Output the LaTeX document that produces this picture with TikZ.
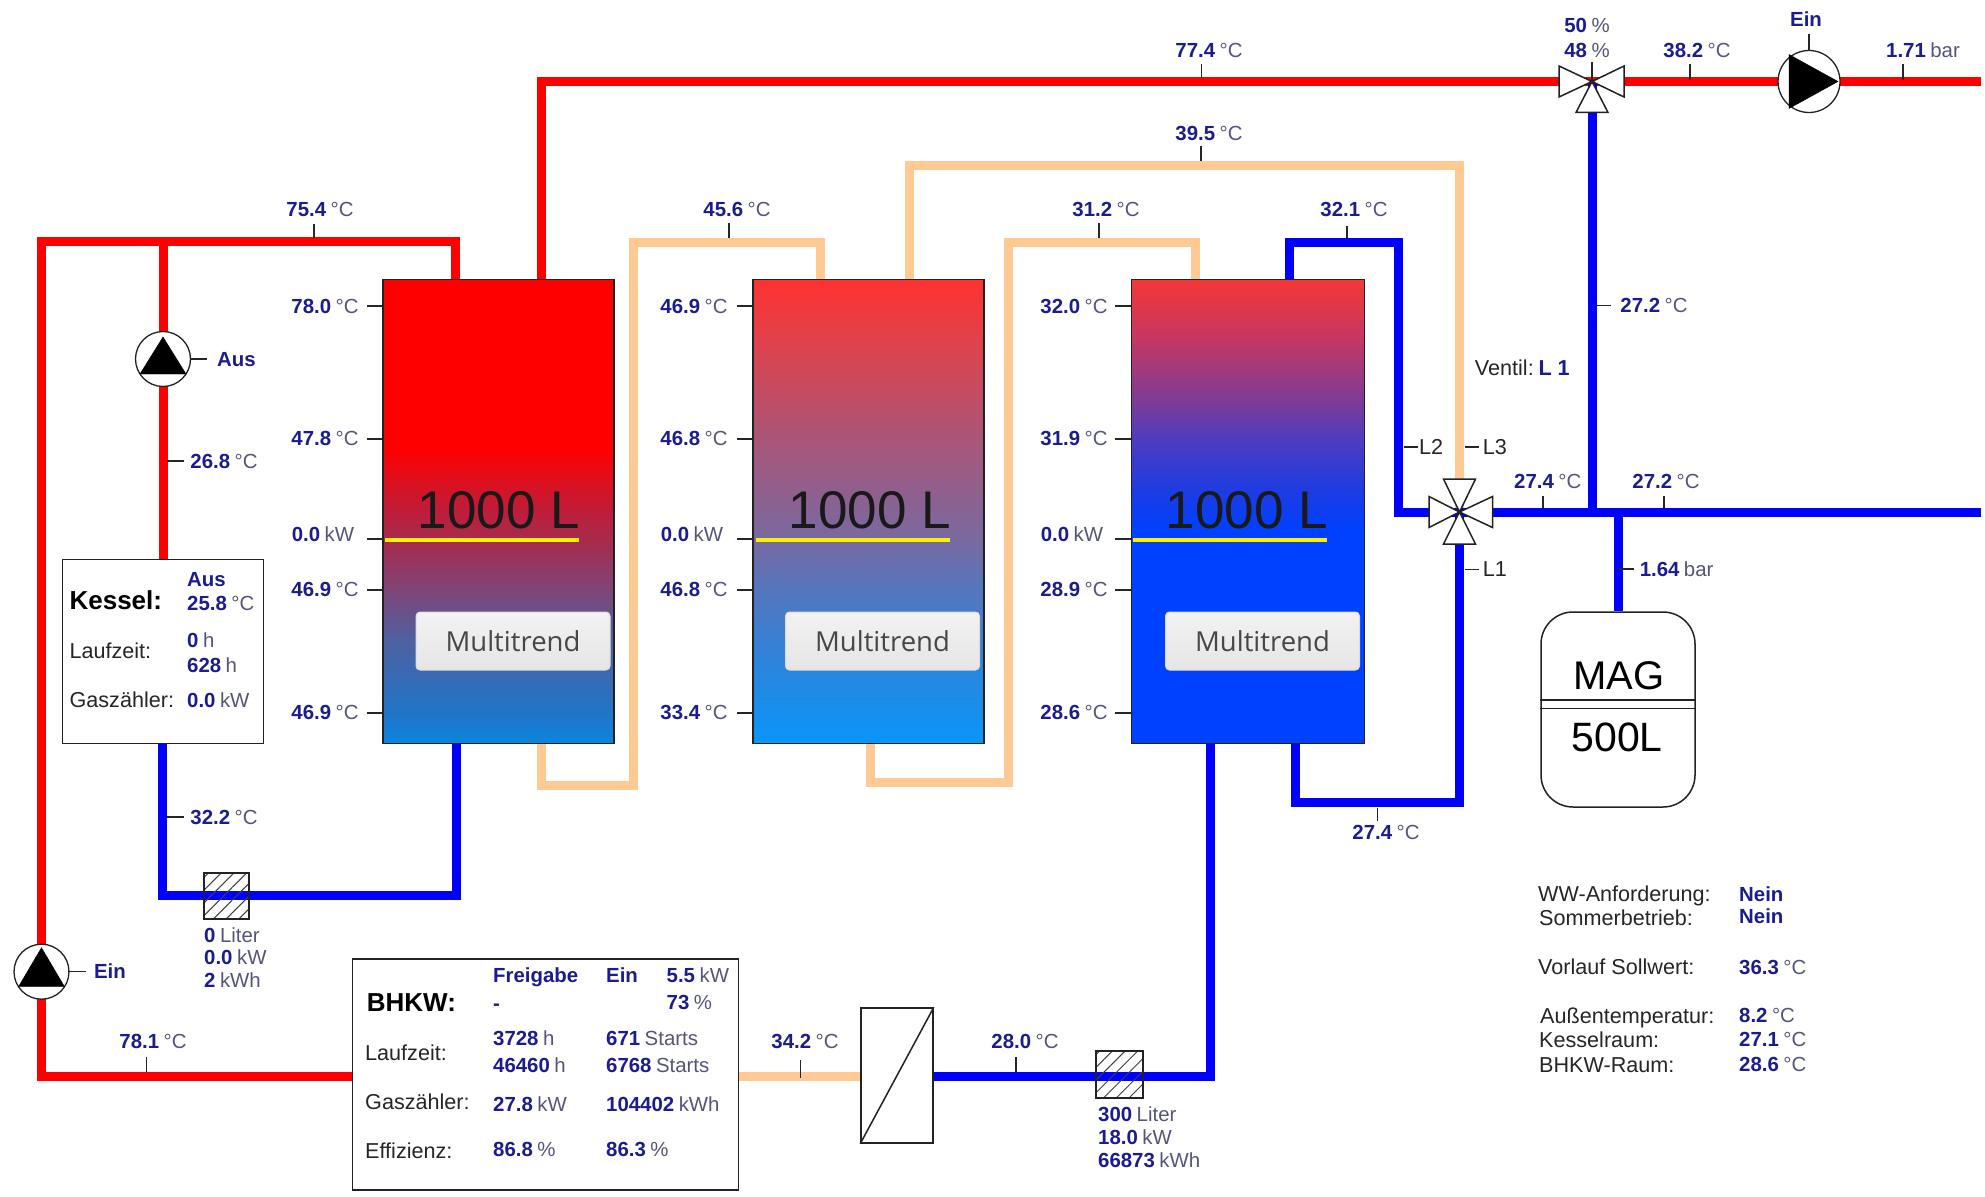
\documentclass[tikz,border=0pt]{standalone}
\usepackage{fontspec}
\setmainfont{Liberation Sans}
\newfontfamily\btnfont{Open Sans}
\usetikzlibrary{patterns.meta}
\definecolor{valc}{HTML}{1C1C8E}
\definecolor{unitc}{HTML}{55557A}
\definecolor{pipered}{HTML}{FF0000}
\definecolor{pipeblue}{HTML}{0000FF}
\definecolor{pipepeach}{HTML}{FFC993}
\definecolor{outl}{HTML}{222222}
% shading: 25bp = bottom of tank, 75bp = top of tank
\pgfdeclareverticalshading{tankA}{100bp}{
 color(0bp)=(rgb,255:red,10;green,133;blue,224);
 color(25bp)=(rgb,255:red,10;green,133;blue,224);
 color(28.3bp)=(rgb,255:red,32;green,117;blue,200);
 color(36.3bp)=(rgb,255:red,80;green,96;blue,160);
 color(41.6bp)=(rgb,255:red,127;green,69;blue,119);
 color(47bp)=(rgb,255:red,168;green,42;blue,76);
 color(50.3bp)=(rgb,255:red,192;green,28;blue,56);
 color(56.9bp)=(rgb,255:red,255;green,0;blue,0);
 color(75bp)=(rgb,255:red,255;green,0;blue,0);
 color(100bp)=(rgb,255:red,255;green,0;blue,0)}
\pgfdeclareverticalshading{tankB}{100bp}{
 color(0bp)=(rgb,255:red,8;green,150;blue,250);
 color(25bp)=(rgb,255:red,8;green,150;blue,250);
 color(35bp)=(rgb,255:red,50;green,130;blue,215);
 color(41.6bp)=(rgb,255:red,85;green,118;blue,190);
 color(47bp)=(rgb,255:red,120;green,105;blue,160);
 color(57.9bp)=(rgb,255:red,170;green,85;blue,120);
 color(68.5bp)=(rgb,255:red,225;green,65;blue,75);
 color(75bp)=(rgb,255:red,255;green,50;blue,50);
 color(100bp)=(rgb,255:red,255;green,50;blue,50)}
\pgfdeclareverticalshading{tankC}{100bp}{
 color(0bp)=(rgb,255:red,0;green,64;blue,255);
 color(48bp)=(rgb,255:red,0;green,64;blue,255);
 color(52.4bp)=(rgb,255:red,30;green,60;blue,225);
 color(57.9bp)=(rgb,255:red,80;green,60;blue,190);
 color(62bp)=(rgb,255:red,125;green,60;blue,150);
 color(69bp)=(rgb,255:red,200;green,55;blue,95);
 color(75bp)=(rgb,255:red,245;green,55;blue,55);
 color(100bp)=(rgb,255:red,245;green,55;blue,55)}
\newcommand{\V}[2]{{\bfseries\color{valc}#1}\hspace{.22em}{\color{unitc}#2}}
\newcommand{\B}[1]{{\bfseries\color{valc}#1}}
\newcommand{\marktick}[5]{\coordinate (#1a) at (#2,#3); \coordinate (#1b) at (#4,#5); \draw[tickline] (#1a) -- (#1b);}
\tikzset{
 x=1pt,y=-1pt,
 pipeR/.style={draw=pipered,line width=9pt,line join=miter},
 pipeB/.style={draw=pipeblue,line width=9pt,line join=miter},
 pipeP/.style={draw=pipepeach,line width=9pt,line join=miter},
 tickline/.style={draw=black!85,line width=1.3pt},
 val/.style={inner sep=0pt,text height=14pt,text depth=0pt,font=\fontsize{20.4}{24}\selectfont},
 vall/.style={val,anchor=west},
 txt/.style={inner sep=0pt,text height=14pt,text depth=0pt,anchor=west,font=\fontsize{21.6}{24}\selectfont,text=black!85},
 headtxt/.style={inner sep=0pt,text height=18pt,text depth=0pt,anchor=west,font=\bfseries\fontsize{26}{30}\selectfont,text=black},
 tankbox/.style={draw=outl,line width=1.8pt,minimum width=231pt,minimum height=464pt,inner sep=0pt},
 bigtxt/.style={inner sep=0pt,font=\fontsize{53}{60}\selectfont,text=black!90,text height=38pt,text depth=0pt},
 heatline/.style={draw={rgb,255:red,250;green,240;blue,0},line width=3.4pt},
 btn/.style={draw=white!86!black,top color=white!95!black,bottom color=white!90!black,rounded corners=4pt,line width=1pt,minimum width=194pt,minimum height=58pt,inner sep=0pt,font=\btnfont\fontsize{27.5}{30}\selectfont,text=black!72},
 infobox/.style={draw=outl,fill=white,line width=1.6pt,inner sep=0pt},
 pump/.style={draw=outl,fill=white,circle,line width=1.3pt,inner sep=0pt},
 pumpT/.style={fill=black,draw=black},
 valve/.style={draw=outl,fill=white,line width=1.5pt,line join=miter},
 meter/.style={draw=outl,line width=1.6pt,inner sep=0pt,minimum width=47pt,minimum height=47pt,pattern={Lines[angle=45,distance=9pt,line width=1pt]},pattern color=black!75},
}
\begin{document}
\begin{tikzpicture}
\useasboundingbox (0,0) rectangle (1985,1196);
\fill[white] (0,0) rectangle (1985,1196);

% --- tanks, boxes
\node[tankbox,shading=tankA] (t1) at (498.75,511.5) {};
\node[tankbox,shading=tankB] (t2) at (868.5,511.5) {};
\node[tankbox,shading=tankC,minimum width=233pt] (t3) at (1248,511.5) {};

\node[infobox,minimum width=201pt,minimum height=184pt] (kessel) at (163,651.5) {};
\node[infobox,minimum width=386pt,minimum height=231pt] (bhkw) at (545.5,1074.5) {};
\node[infobox,minimum width=72pt,minimum height=135pt] (hx) at (897,1075.5) {};
\node[draw=outl,fill=white,line width=1.5pt,rounded corners=32pt,minimum width=154pt,minimum height=195pt,inner sep=0pt] (mag) at (1618,709.5) {};

% --- junction and corner coordinates
\coordinate (pumpA) at (163,359);
\coordinate (pumpB) at (41.5,971.7);
\coordinate (pumpC) at (1809,81.5);
\coordinate (v3) at (1592,81.5);
\coordinate (v4) at (1459.5,512);
\coordinate (rl) at (41.5,241);
\coordinate (rj) at (163,241);
\coordinate (rr) at (455,241);
\coordinate (rb) at (41.5,1076);
\coordinate (rt) at (541,81.5);
\coordinate (rend) at (1981,81.5);
\coordinate (ble) at (162.6,895.7);
\coordinate (bri) at (456,895.7);
\coordinate (p1b) at (541,785);
\coordinate (p1c) at (633,785);
\coordinate (p1d) at (633,242);
\coordinate (p1e) at (820,242);
\coordinate (p2b) at (870,782);
\coordinate (p2c) at (1008,782);
\coordinate (p2d) at (1008,242);
\coordinate (p2e) at (1195,242);
\coordinate (p3a) at (909,165);
\coordinate (p3b) at (1459.5,165);
\coordinate (b3a) at (1289,242);
\coordinate (b3b) at (1398,242);
\coordinate (b3c) at (1398,512);
\coordinate (b4a) at (1295,802);
\coordinate (b4b) at (1459.5,802);
\coordinate (b5) at (1210.7,1076);
\coordinate (b6) at (1592,512);
\coordinate (b7) at (1618,512);
\coordinate (bend) at (1981,512);

% --- pipes
\draw[pipeR] (rend) -- (v3) -- (rt) -- (t1.north -| rt);
\draw[pipeR] (t1.north -| rr) -- (rr) -- (rl) -- (rb) -- (bhkw.west |- rb);
\draw[pipeR] (rj) -- (kessel.north -| rj);
\draw[pipeB] (kessel.south -| ble) -- (ble) -- (bri) -- (t1.south -| bri);
\draw[pipeP] (t1.south -| p1b) -- (p1b) -- (p1c) -- (p1d) -- (p1e) -- (t2.north -| p1e);
\draw[pipeP] (t2.south -| p2b) -- (p2b) -- (p2c) -- (p2d) -- (p2e) -- (t3.north -| p2e);
\draw[pipeP] (t2.north -| p3a) -- (p3a) -- (p3b) -- (v4);
\draw[pipeB] (t3.north -| b3a) -- (b3a) -- (b3b) -- (b3c) -- (v4);
\draw[pipeB] (t3.south -| b4a) -- (b4a) -- (b4b) -- (v4);
\draw[pipeB] (v4) -- (bend);
\draw[pipeB] (b6) -- (v3);
\draw[pipeB] (b7) -- (mag.north -| b7);
\draw[pipeP] (bhkw.east |- rb) -- (hx.west |- rb);
\draw[pipeB] (hx.east |- rb) -- (b5) -- (t3.south -| b5);

% --- tank decorations
\foreach \n/\cx/\yl/\yr/\bx in {t1/499/385/579/513, t2/870/756/950/882.5, t3/1247/1133/1327/1262.5}{
 \node[bigtxt] (big\n) at (\cx,509) {1000 L};
 \coordinate (hl\n) at (\yl,540); \coordinate (hr\n) at (\yr,540);
 \draw[heatline] (hl\n) -- (hr\n);
 \node[btn] (btn\n) at (\bx,641) {Multitrend};
}

% --- heat exchanger, MAG details
\draw[draw=outl,line width=1.5pt] (hx.south west) -- (hx.north east);
\draw[draw=outl,line width=1.5pt] (mag.west |- 0,700) -- (mag.east |- 0,700);
\draw[draw=outl,line width=1.5pt] (mag.west |- 0,708.5) -- (mag.east |- 0,708.5);
\node[inner sep=0pt,font=\fontsize{40}{44}\selectfont,text=black] (magt) at (1618.8,675.5) {MAG};
\node[inner sep=0pt,font=\fontsize{41}{44}\selectfont,text=black] (magv) at (1617,737) {500L};

% --- meters
\node[meter,minimum width=45pt,minimum height=46pt] (m1) at (226.4,896) {};
\node[meter] (m2) at (1119.7,1074.7) {};

% --- pumps
\node[pump,minimum size=55pt] (pa) at (pumpA) {};
\draw[pumpT] (pa.center) ++(0,-22) -- ++(23,37) -- ++(-46,0) -- cycle;
\node[pump,minimum size=55pt] (pb) at (pumpB) {};
\draw[pumpT] (pb.center) ++(0,-24) -- ++(23,39) -- ++(-46,0) -- cycle;
\node[pump,minimum size=62pt] (pc) at (pumpC) {};
\draw[pumpT] (pc.center) ++(29,0) -- ++(-49,-27) -- ++(0,54) -- cycle;

% --- valves
\draw[valve] (v3) -- ++(-33,-15.5) -- ++(0,31) -- cycle;
\draw[valve] (v3) -- ++(32,-15.5) -- ++(0,31) -- cycle;
\draw[valve] (v3) -- ++(-16,31) -- ++(32,0) -- cycle;
\fill[outl] (v3) circle (2.2pt);
\draw[valve] (v4) -- ++(-30.5,-15.5) -- ++(0,31) -- cycle;
\draw[valve] (v4) -- ++(33,-15.5) -- ++(0,31) -- cycle;
\draw[valve] (v4) -- ++(-16,-33) -- ++(32,0) -- cycle;
\draw[valve] (v4) -- ++(-16,32) -- ++(32,0) -- cycle;
\fill[outl] (v4) circle (2.2pt);

% --- ticks
\marktick{ta}{1201.5}{64}{1201.5}{78}
\marktick{tb}{1201}{146}{1201}{161}
\marktick{tc}{1592}{62}{1592}{81}
\marktick{td}{1690}{64}{1690}{80}
\marktick{te}{1809}{34}{1809}{51}
\marktick{tf}{1903}{64}{1903}{80}
\marktick{tg}{314}{224}{314}{238}
\marktick{th}{729}{223}{729}{238}
\marktick{ti}{1099}{223}{1099}{238}
\marktick{tj}{1347}{226}{1347}{238}
\marktick{tk}{190}{359}{207}{359}
\marktick{tl}{167}{461}{183.5}{461}
\marktick{tm}{167}{817}{183.5}{817}
\marktick{tn}{68}{971.7}{86}{971.7}
\marktick{to}{146.7}{1057}{146.7}{1072}
\marktick{tp}{800.4}{1060}{800.4}{1078}
\marktick{tq}{1016}{1057}{1016}{1072}
\marktick{tr}{1377.7}{808}{1377.7}{821}
\marktick{ts}{1595}{305.6}{1611}{305.6}
\marktick{tt}{1543}{496}{1543}{508}
\marktick{tu}{1664}{496}{1664}{508}
\marktick{tv}{1619}{569}{1634}{569}
\marktick{tw}{1404}{447}{1418}{447}
\marktick{tx}{1465}{447}{1479}{447}
\marktick{ty}{1465}{569.4}{1479}{569.4}
\foreach \i/\xa/\xb/\ya in {1/367/383/306,2/367/383/439,3/367/383/539,4/367/383/590,5/367/383/713,
 6/737/753/306,7/737/753/439,8/737/753/539,9/737/753/590,10/737/753/713,
 11/1115/1131/306,12/1115/1131/439,13/1115/1131/539,14/1115/1131/590,15/1115/1131/713}{
 \marktick{q\i}{\xa}{\ya}{\xb}{\ya}
}

% --- values on pipes
\node[val] (l01) at (1209,50.6) {\V{77.4}{°C}};
\node[val] (l02) at (1209,133) {\V{39.5}{°C}};
\node[val] (l03) at (1587,25.7) {\V{50}{\%}};
\node[val] (l04) at (1587,50.6) {\V{48}{\%}};
\node[val] (l05) at (1697,50.6) {\V{38.2}{°C}};
\node[val] (l06) at (1806,20) {\B{Ein}};
\node[val] (l07) at (1923,50.6) {\V{1.71}{bar}};
\node[val] (l08) at (320,209) {\V{75.4}{°C}};
\node[val] (l09) at (737,209) {\V{45.6}{°C}};
\node[val] (l10) at (1106,209) {\V{31.2}{°C}};
\node[val] (l11) at (1354,209) {\V{32.1}{°C}};
\node[val] (l12) at (236.5,359) {\B{Aus}};
\node[val] (l13) at (224,461) {\V{26.8}{°C}};
\node[val] (l14) at (224,817) {\V{32.2}{°C}};
\node[val] (l15) at (110,971.7) {\B{Ein}};
\node[val] (l16) at (153,1041) {\V{78.1}{°C}};
\node[val] (l17) at (805,1041) {\V{34.2}{°C}};
\node[val] (l18) at (1025,1041) {\V{28.0}{°C}};
\node[val] (l19) at (1386,832) {\V{27.4}{°C}};
\node[val] (l20) at (1654,305) {\V{27.2}{°C}};
\node[val] (l21) at (1547.7,481) {\V{27.4}{°C}};
\node[val] (l22) at (1666,481) {\V{27.2}{°C}};
\node[val] (l23) at (1676.6,569) {\V{1.64}{bar}};

% --- tank temperatures
\node[val] (a1) at (325,306) {\V{78.0}{°C}};
\node[val] (a2) at (325,438) {\V{47.8}{°C}};
\node[val] (a3) at (323,534) {\V{0.0}{kW}};
\node[val] (a4) at (325,589.5) {\V{46.9}{°C}};
\node[val] (a5) at (325,712) {\V{46.9}{°C}};
\node[val] (b1) at (694,306) {\V{46.9}{°C}};
\node[val] (b2) at (694,438) {\V{46.8}{°C}};
\node[val] (b3) at (692,534) {\V{0.0}{kW}};
\node[val] (b4) at (694,589.5) {\V{46.8}{°C}};
\node[val] (b5l) at (694,712) {\V{33.4}{°C}};
\node[val] (c1) at (1074,306) {\V{32.0}{°C}};
\node[val] (c2) at (1074,438) {\V{31.9}{°C}};
\node[val] (c3) at (1072,534) {\V{0.0}{kW}};
\node[val] (c4) at (1074,589.5) {\V{28.9}{°C}};
\node[val] (c5) at (1074,712) {\V{28.6}{°C}};

% --- valve labels
\node[txt] (v1) at (1474.7,368.5) {Ventil:\hspace{.22em}\B{L 1}};
\node[txt] (v2) at (1419,447) {L2};
\node[txt] (v5) at (1482.6,447) {L3};
\node[txt] (v6) at (1482.6,569.4) {L1};

% --- Kessel box
\node[headtxt] (k0) at (69.4,600) {Kessel:};
\node[txt] (k1) at (69.4,651) {Laufzeit:};
\node[txt] (k2) at (69.4,700) {Gaszähler:};
\node[vall] (k3) at (187,579) {\B{Aus}};
\node[vall] (k4) at (187,603.6) {\V{25.8}{°C}};
\node[vall] (k5) at (187,640) {\V{0}{h}};
\node[vall] (k6) at (187,665) {\V{628}{h}};
\node[vall] (k7) at (187,700) {\V{0.0}{kW}};

% --- meter readings
\node[vall] (m11) at (204,935) {\V{0}{Liter}};
\node[vall] (m12) at (204,957) {\V{0.0}{kW}};
\node[vall] (m13) at (204,980) {\V{2}{kWh}};
\node[vall] (m21) at (1098,1114) {\V{300}{Liter}};
\node[vall] (m22) at (1098,1137) {\V{18.0}{kW}};
\node[vall] (m23) at (1098,1160) {\V{66873}{kWh}};

% --- BHKW box
\node[headtxt] (h0) at (366.7,1002) {BHKW:};
\node[txt] (h1) at (365,1053) {Laufzeit:};
\node[txt] (h2) at (365,1102) {Gaszähler:};
\node[txt] (h3) at (365,1151) {Effizienz:};
\node[vall] (h4) at (493,975.7) {\B{Freigabe}};
\node[vall] (h5) at (493,1003) {\B{-}};
\node[vall] (h6) at (493,1038) {\V{3728}{h}};
\node[vall] (h7) at (493,1065) {\V{46460}{h}};
\node[vall] (h8) at (493,1104) {\V{27.8}{kW}};
\node[vall] (h9) at (493,1149) {\V{86.8}{\%}};
\node[vall] (h10) at (606,975.7) {\B{Ein}};
\node[vall] (h11) at (606,1038) {\V{671}{Starts}};
\node[vall] (h12) at (606,1065) {\V{6768}{Starts}};
\node[vall] (h13) at (606,1104) {\V{104402}{kWh}};
\node[vall] (h14) at (606,1149) {\V{86.3}{\%}};
\node[vall] (h15) at (666.5,975.7) {\V{5.5}{kW}};
\node[vall] (h16) at (666.5,1002) {\V{73}{\%}};

% --- status block
\node[txt] (s1) at (1538,894) {WW-Anforderung:};
\node[txt] (s2) at (1539,918) {Sommerbetrieb:};
\node[txt] (s3) at (1538,967) {Vorlauf Sollwert:};
\node[txt] (s4) at (1540,1016) {Außentemperatur:};
\node[txt] (s5) at (1539,1040.5) {Kesselraum:};
\node[txt] (s6) at (1539,1065) {BHKW-Raum:};
\node[vall] (s7) at (1739,894) {\B{Nein}};
\node[vall] (s8) at (1739,916.7) {\B{Nein}};
\node[vall] (s9) at (1739,967) {\V{36.3}{°C}};
\node[vall] (s10) at (1739,1015) {\V{8.2}{°C}};
\node[vall] (s11) at (1739,1039) {\V{27.1}{°C}};
\node[vall] (s12) at (1739,1064) {\V{28.6}{°C}};
\end{tikzpicture}
\end{document}
